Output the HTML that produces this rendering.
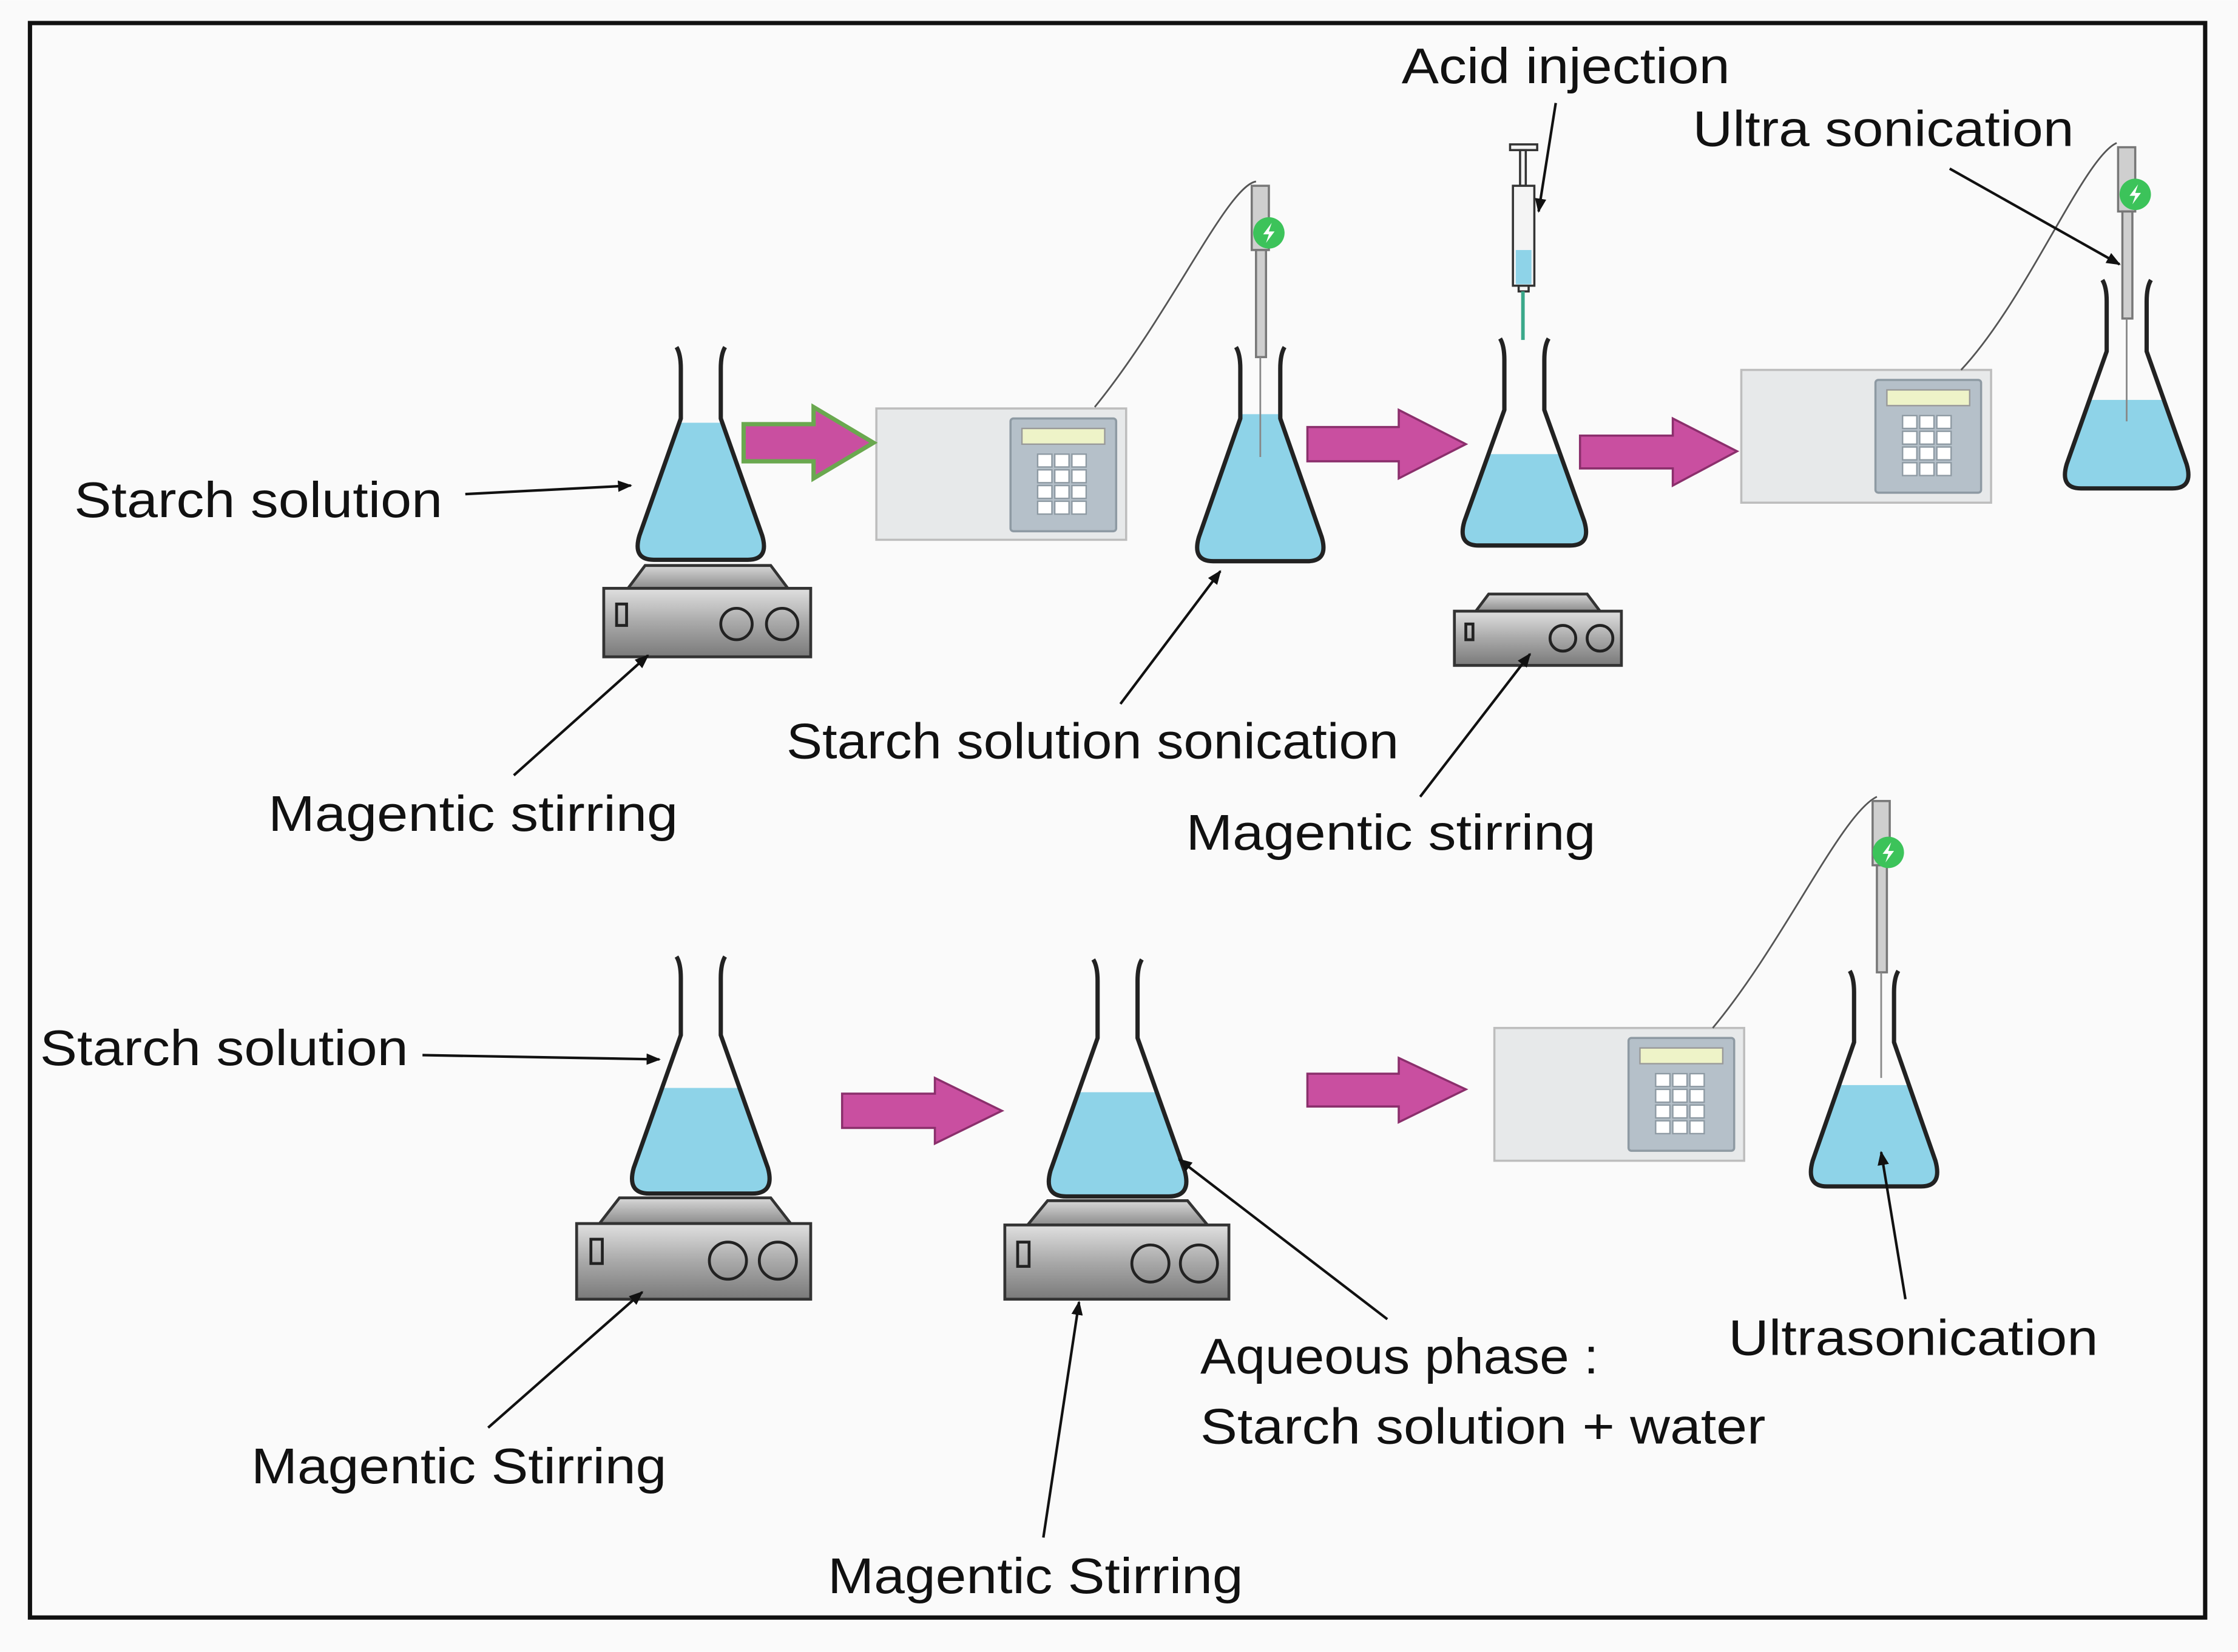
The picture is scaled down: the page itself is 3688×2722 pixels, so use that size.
<!DOCTYPE html>
<html><head><meta charset="utf-8"><style>
html,body{margin:0;padding:0;background:#fff}
svg{display:block}
text{font-family:"Liberation Sans",sans-serif;font-size:35px;fill:#111}
</style></head><body>
<svg width="3688" height="2722" viewBox="0 0 1568 1157" xmlns="http://www.w3.org/2000/svg">
<defs>
<marker id="ah" markerWidth="10" markerHeight="8" refX="9" refY="4" orient="auto" markerUnits="userSpaceOnUse">
<path d="M0,0 L10,4 L0,8 Z" fill="#111"/></marker>
<linearGradient id="stir" x1="0" y1="0" x2="0" y2="1"><stop offset="0" stop-color="#e0e0e0"/><stop offset="0.5" stop-color="#a9a9a9"/><stop offset="1" stop-color="#7a7a7a"/></linearGradient>
<linearGradient id="stirtop" x1="0" y1="0" x2="0" y2="1"><stop offset="0" stop-color="#d8d8d8"/><stop offset="1" stop-color="#8c8c8c"/></linearGradient>
<g id="keypad">
<rect x="0" y="0" width="74" height="79" fill="#b5c0c9" stroke="#8e9aa3" stroke-width="1.5" rx="2"/>
<rect x="8" y="7" width="58" height="11" fill="#eef3c8" stroke="#999" stroke-width="1"/>
<g fill="#fff" stroke="#8e9aa3" stroke-width="1">
<rect x="19" y="25" width="10" height="9"/><rect x="31" y="25" width="10" height="9"/><rect x="43" y="25" width="10" height="9"/>
<rect x="19" y="36" width="10" height="9"/><rect x="31" y="36" width="10" height="9"/><rect x="43" y="36" width="10" height="9"/>
<rect x="19" y="47" width="10" height="9"/><rect x="31" y="47" width="10" height="9"/><rect x="43" y="47" width="10" height="9"/>
<rect x="19" y="58" width="10" height="9"/><rect x="31" y="58" width="10" height="9"/><rect x="43" y="58" width="10" height="9"/>
</g></g>
<g id="badge"><circle r="11" fill="#3cc35a"/><path d="M2,-7 L-4,1 L0,1 L-2,7 L4,-1 L0,-1 Z" fill="#fff"/></g>
</defs>
<rect width="1568" height="1157" fill="#fafafa"/>
<rect x="21" y="16" width="1524" height="1117" fill="#fafafa" stroke="#111" stroke-width="3"/>

<g stroke="#bdbdbd" stroke-width="1.5" fill="#e7e9ea">
<rect x="614" y="286" width="175" height="92"/>
<rect x="1220" y="259" width="175" height="93"/>
<rect x="1047" y="720" width="175" height="93"/>
</g>
<use href="#keypad" x="708" y="293"/>
<use href="#keypad" x="1314" y="266"/>
<use href="#keypad" x="1141" y="727"/>

<g fill="none" stroke="#555" stroke-width="1.2">
<path d="M880,127 C860,130 820,220 767,285"/>
<path d="M1483,100 C1460,110 1420,210 1374,259"/>
<path d="M1315,558 C1290,570 1250,660 1200,720"/>
</g>

<g fill="#c94fa0" stroke="#8b2f6c" stroke-width="1.5">
<path d="M521,297 L570,297 L570,285 L612,310 L570,335 L570,323 L521,323 Z" stroke="#6aa84f" stroke-width="3"/>
<path d="M916,299 L980,299 L980,287 L1027,311 L980,335 L980,323 L916,323 Z"/>
<path d="M1107,305 L1172,305 L1172,293 L1217,316 L1172,340 L1172,328 L1107,328 Z"/>
<path d="M590,766 L655,766 L655,755 L702,778 L655,801 L655,790 L590,790 Z"/>
<path d="M916,752 L980,752 L980,741 L1027,763 L980,786 L980,775 L916,775 Z"/>
</g>

<defs>
<clipPath id="c1"><path id="f1" d="M474,243 Q477,248 477,258 L477,293 L448,375 Q443,392 458,392 L524,392 Q539,392 534,375 L505,293 L505,258 Q505,248 508,243"/></clipPath>
<clipPath id="c2"><path id="f2" d="M866,243 Q869,248 869,258 L869,293 L840,376 Q835,393 850,393 L916,393 Q931,393 926,376 L897,293 L897,258 Q897,248 900,243"/></clipPath>
<clipPath id="c3"><path id="f3" d="M1051,237 Q1054,242 1054,252 L1054,287 L1026,365 Q1021,382 1036,382 L1100,382 Q1115,382 1110,365 L1082,287 L1082,252 Q1082,242 1085,237"/></clipPath>
<clipPath id="c4"><path id="f4" d="M1473,196 Q1476,201 1476,211 L1476,246 L1448,325 Q1443,342 1458,342 L1522,342 Q1537,342 1532,325 L1504,246 L1504,211 Q1504,201 1507,196"/></clipPath>
<clipPath id="c5"><path id="f5" d="M474,670 Q477,675 477,685 L477,725 L444,818 Q439,836 455,836 L527,836 Q543,836 538,818 L505,725 L505,685 Q505,675 508,670"/></clipPath>
<clipPath id="c6"><path id="f6" d="M766,672 Q769,677 769,687 L769,727 L736,820 Q731,838 747,838 L819,838 Q835,838 830,820 L797,727 L797,687 Q797,677 800,672"/></clipPath>
<clipPath id="c7"><path id="f7" d="M1296,680 Q1299,685 1299,695 L1299,730 L1270,813 Q1265,831 1280,831 L1346,831 Q1361,831 1356,813 L1327,730 L1327,695 Q1327,685 1330,680"/></clipPath>
</defs>
<g fill="#8ed3e8">
<rect x="400" y="296" width="200" height="120" clip-path="url(#c1)"/>
<rect x="800" y="290" width="200" height="120" clip-path="url(#c2)"/>
<rect x="1000" y="318" width="200" height="120" clip-path="url(#c3)"/>
<rect x="1400" y="280" width="200" height="120" clip-path="url(#c4)"/>
<rect x="400" y="762" width="200" height="120" clip-path="url(#c5)"/>
<rect x="700" y="765" width="200" height="120" clip-path="url(#c6)"/>
<rect x="1200" y="760" width="200" height="120" clip-path="url(#c7)"/>
</g>
<g fill="none" stroke="#222" stroke-width="3">
<use href="#f1"/><use href="#f2"/><use href="#f3"/><use href="#f4"/><use href="#f5"/><use href="#f6"/><use href="#f7"/>
</g>

<g stroke="#777" stroke-width="1.5" fill="#cfcfcf">
<rect x="877" y="130" width="12" height="45"/><rect x="880" y="175" width="7" height="75"/>
<rect x="1484" y="103" width="12" height="45"/><rect x="1487" y="148" width="7" height="75"/>
<rect x="1312" y="561" width="12" height="45"/><rect x="1315" y="606" width="7" height="75"/>
</g>
<g stroke="#888" stroke-width="1.2">
<line x1="883" y1="250" x2="883" y2="320"/><line x1="1490" y1="223" x2="1490" y2="295"/><line x1="1318" y1="681" x2="1318" y2="755"/>
</g>
<use href="#badge" x="889" y="163"/>
<use href="#badge" x="1496" y="136"/>
<use href="#badge" x="1323" y="597"/>

<g stroke="#333" stroke-width="1.5" fill="#f4f4f4">
<rect x="1058" y="101" width="19" height="4"/>
<rect x="1065" y="105" width="4" height="25"/>
<rect x="1060" y="130" width="15" height="70"/>
<rect x="1064" y="200" width="7" height="4"/>
</g>
<rect x="1062" y="175" width="11" height="24" fill="#8ed3e8"/>
<line x1="1067" y1="204" x2="1067" y2="238" stroke="#3aa88a" stroke-width="2.5"/>

<g stroke="#333" stroke-width="2">
<path d="M440,412 L452,396 L540,396 L552,412 Z" fill="url(#stirtop)"/>
<rect x="423" y="412" width="145" height="48" fill="url(#stir)"/>
<path d="M1034,428 L1043,416 L1112,416 L1121,428 Z" fill="url(#stirtop)"/>
<rect x="1019" y="428" width="117" height="38" fill="url(#stir)"/>
<path d="M420,857 L434,839 L540,839 L554,857 Z" fill="url(#stirtop)"/>
<rect x="404" y="857" width="164" height="53" fill="url(#stir)"/>
<path d="M720,858 L734,841 L832,841 L846,858 Z" fill="url(#stirtop)"/>
<rect x="704" y="858" width="157" height="52" fill="url(#stir)"/>
</g>
<g stroke="#222" stroke-width="2" fill="none">
<circle cx="516" cy="437" r="11"/><circle cx="548" cy="437" r="11"/><rect x="432" y="423" width="7" height="15"/>
<circle cx="1095" cy="447" r="9"/><circle cx="1121" cy="447" r="9"/><rect x="1027" y="437" width="5" height="11"/>
<circle cx="510" cy="883" r="13"/><circle cx="545" cy="883" r="13"/><rect x="414" y="868" width="8" height="17"/>
<circle cx="806" cy="885" r="13"/><circle cx="840" cy="885" r="13"/><rect x="713" y="870" width="8" height="17"/>
</g>

<g stroke="#111" stroke-width="1.8" marker-end="url(#ah)">
<line x1="326" y1="346" x2="442" y2="340"/>
<line x1="360" y1="543" x2="454" y2="459"/>
<line x1="785" y1="493" x2="855" y2="400"/>
<line x1="995" y1="558" x2="1072" y2="458"/>
<line x1="1090" y1="72" x2="1078" y2="148"/>
<line x1="1366" y1="118" x2="1485" y2="185"/>
<line x1="296" y1="739" x2="462" y2="742"/>
<line x1="342" y1="1000" x2="450" y2="905"/>
<line x1="972" y1="924" x2="826" y2="812"/>
<line x1="731" y1="1077" x2="756" y2="912"/>
<line x1="1335" y1="910" x2="1318" y2="807"/>
</g>

<g lengthAdjust="spacingAndGlyphs">
<text x="982" y="58" textLength="230" lengthAdjust="spacingAndGlyphs">Acid injection</text>
<text x="1186" y="102" textLength="267" lengthAdjust="spacingAndGlyphs">Ultra sonication</text>
<text x="52" y="362" textLength="258" lengthAdjust="spacingAndGlyphs">Starch solution</text>
<text x="551" y="531" textLength="429" lengthAdjust="spacingAndGlyphs">Starch solution sonication</text>
<text x="188" y="582" textLength="287" lengthAdjust="spacingAndGlyphs">Magentic stirring</text>
<text x="831" y="595" textLength="287" lengthAdjust="spacingAndGlyphs">Magentic stirring</text>
<text x="28" y="746" textLength="258" lengthAdjust="spacingAndGlyphs">Starch solution</text>
<text x="1211" y="949" textLength="259" lengthAdjust="spacingAndGlyphs">Ultrasonication</text>
<text x="841" y="962" textLength="279" lengthAdjust="spacingAndGlyphs">Aqueous phase :</text>
<text x="841" y="1011" textLength="396" lengthAdjust="spacingAndGlyphs">Starch solution + water</text>
<text x="176" y="1039" textLength="291" lengthAdjust="spacingAndGlyphs">Magentic Stirring</text>
<text x="580" y="1116" textLength="291" lengthAdjust="spacingAndGlyphs">Magentic Stirring</text>
</g>
</svg>
</body></html>
